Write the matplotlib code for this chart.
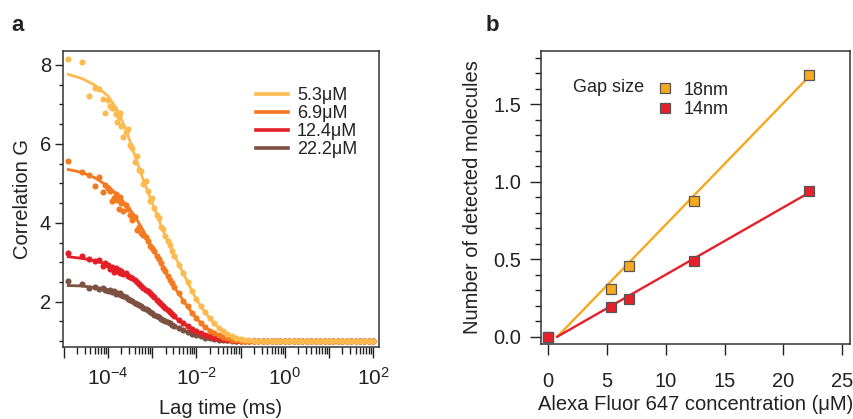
import numpy as np
import matplotlib
matplotlib.use("Agg")
import matplotlib.pyplot as plt
from matplotlib.ticker import LogLocator, FuncFormatter, MultipleLocator, NullFormatter
from matplotlib.lines import Line2D

plt.rcParams['font.family'] = ['Liberation Sans', 'DejaVu Sans']
plt.rcParams['text.color'] = '#222222'
plt.rcParams['axes.labelcolor'] = '#222222'
plt.rcParams['xtick.color'] = '#222222'
plt.rcParams['ytick.color'] = '#222222'

# ---- panel a : FCS curves (lag times stored as log10 ms) ----
concentrations = ['5.3μM', '6.9μM', '12.4μM', '22.2μM']
curve_colors = ['#FDBB4F', '#F37A20', '#E41E26', '#7D5141']

dot_lag = [-4.90, -4.60, -4.43, -4.30, -4.20, -4.12, -4.06, -4.00, -3.95, -3.90,
           -3.86, -3.82, -3.79, -3.75, -3.72, -3.70, -3.65, -3.60, -3.55, -3.50,
           -3.45, -3.40, -3.35, -3.30, -3.25, -3.20, -3.15, -3.10, -3.05, -3.00,
           -2.95, -2.90, -2.85, -2.80, -2.75, -2.70, -2.65, -2.60, -2.55, -2.50,
           -2.40, -2.30, -2.20, -2.10, -2.00, -1.90, -1.80, -1.70, -1.60, -1.50,
           -1.40, -1.30, -1.20, -1.10, -1.00, -0.90, -0.80]

dots_53 = [8.14, 8.07, 7.21, 7.42, 7.38, 7.13, 6.77, 7.10, 6.95, 6.90,
           6.92, 6.75, 6.56, 6.68, 6.78, 6.45, 6.18, 6.30, 6.37, 5.97,
           5.90, 5.55, 5.70, 5.35, 5.30, 4.98, 5.05, 4.80, 4.55, 4.62,
           4.38, 4.20, 4.12, 3.90, 3.85, 3.66, 3.55, 3.45, 3.28, 3.17,
           2.93, 2.72, 2.49, 2.26, 2.06, 1.88, 1.73, 1.58, 1.45, 1.34,
           1.25, 1.18, 1.13, 1.09, 1.06, 1.04, 1.02]
dots_69 = [5.57, 5.29, 5.20, 4.93, 5.16, 4.77, 4.95, 4.88, 4.80, 4.55,
           4.62, 4.73, 4.58, 4.36, 4.66, 4.50, 4.30, 4.45, 4.36, 4.19,
           4.07, 4.15, 3.83, 3.90, 3.75, 3.68, 3.65, 3.55, 3.42, 3.35,
           3.28, 3.15, 3.08, 2.97, 2.85, 2.77, 2.65, 2.56, 2.47, 2.38,
           2.21, 2.03, 1.88, 1.72, 1.59, 1.47, 1.36, 1.27, 1.20, 1.15,
           1.10, 1.07, 1.04, 1.02, 1.01, 1.00, 1.00]
dots_124 = [3.23, 3.16, 3.08, 3.02, 3.05, 2.90, 2.97, 2.93, 2.84, 2.88,
            2.76, 2.85, 2.78, 2.80, 2.72, 2.77, 2.70, 2.73, 2.66, 2.62,
            2.60, 2.54, 2.50, 2.45, 2.41, 2.36, 2.30, 2.26, 2.21, 2.16,
            2.11, 2.05, 2.00, 1.95, 1.90, 1.84, 1.79, 1.73, 1.68, 1.64,
            1.55, 1.46, 1.38, 1.32, 1.26, 1.20, 1.16, 1.12, 1.09, 1.07,
            1.05, 1.03, 1.02, 1.01, 1.00, 1.00, 1.00]
dots_222 = [2.53, 2.45, 2.34, 2.38, 2.33, 2.36, 2.31, 2.28, 2.30, 2.24,
            2.26, 2.20, 2.23, 2.19, 2.21, 2.16, 2.14, 2.12, 2.08, 2.05,
            2.02, 1.98, 1.95, 1.91, 1.88, 1.85, 1.81, 1.78, 1.74, 1.71,
            1.67, 1.64, 1.61, 1.57, 1.54, 1.51, 1.48, 1.45, 1.42, 1.39,
            1.34, 1.28, 1.23, 1.19, 1.15, 1.12, 1.09, 1.07, 1.05, 1.04,
            1.03, 1.02, 1.01, 1.00, 1.00, 1.00, 1.00]

# long-lag baseline points, shared by all curves
tail_lag = [-0.7, -0.6, -0.5, -0.4, -0.3, -0.2, -0.1, 0.0, 0.1, 0.2, 0.3, 0.4, 0.5, 0.6,
            0.7, 0.8, 0.9, 1.0, 1.1, 1.2, 1.3, 1.4, 1.5, 1.6, 1.7, 1.8, 1.9, 2.0]
tail_g = [1.01, 1.00, 1.00, 1.00, 1.00, 1.00, 1.00, 1.00, 1.00, 1.00, 1.00, 1.00, 1.00, 1.00,
          1.00, 1.00, 1.00, 1.00, 1.00, 1.00, 1.00, 1.00, 1.00, 1.00, 1.00, 1.00, 1.00, 1.00]

fit_lag = [-4.9, -4.6, -4.3, -4.0, -3.8, -3.6, -3.4, -3.2, -3.0, -2.8, -2.6, -2.4, -2.2,
           -2.0, -1.8, -1.6, -1.4, -1.2, -1.0, -0.8, -0.6, -0.3, 0.0, 1.0, 2.0]
fit_53 = [7.76, 7.66, 7.49, 7.21, 6.88, 6.38, 5.72, 5.08, 4.50, 3.93, 3.42, 2.95, 2.50,
          2.05, 1.72, 1.45, 1.25, 1.13, 1.06, 1.02, 1.01, 1.00, 1.00, 1.00, 1.00]
fit_69 = [5.35, 5.28, 5.14, 4.93, 4.72, 4.47, 4.18, 3.80, 3.37, 2.96, 2.54, 2.20, 1.87,
          1.58, 1.35, 1.20, 1.10, 1.04, 1.01, 1.00, 1.00, 1.00, 1.00, 1.00, 1.00]
fit_124 = [3.14, 3.10, 3.04, 2.94, 2.83, 2.70, 2.55, 2.36, 2.15, 1.94, 1.72, 1.53, 1.38,
           1.26, 1.16, 1.09, 1.05, 1.02, 1.00, 1.00, 1.00, 1.00, 1.00, 1.00, 1.00]
fit_222 = [2.41, 2.40, 2.36, 2.29, 2.21, 2.12, 1.99, 1.85, 1.71, 1.57, 1.44, 1.33, 1.23,
           1.15, 1.09, 1.05, 1.03, 1.01, 1.00, 1.00, 1.00, 1.00, 1.00, 1.00, 1.00]

# ---- panel b : detected molecules vs concentration ----
conc = [0.0, 5.3, 6.9, 12.4, 22.2]
mol_18nm = [0.0, 0.31, 0.455, 0.875, 1.69]
mol_14nm = [0.0, 0.19, 0.245, 0.49, 0.94]
fit_conc = [0.77, 22.2]
fit_18nm = [0.0, 1.68]
fit_14nm = [0.0, 0.93]
gap_labels = ['18nm', '14nm']
gap_colors = ['#F6A81E', '#E8202A']

fig = plt.figure(figsize=(8.54, 4.19), dpi=100)
ax1 = fig.add_axes([0.0738, 0.1718, 0.370, 0.706])
ax2 = fig.add_axes([0.633, 0.179, 0.362, 0.700])

# draw heaviest concentration first so the 5.3 μM curve sits on top
all_dots = [dots_53, dots_69, dots_124, dots_222]
all_fits = [fit_53, fit_69, fit_124, fit_222]
lag = 10 ** np.array(dot_lag)
tail = 10 ** np.array(tail_lag)
flag = 10 ** np.array(fit_lag)
for i in [3, 2, 1, 0]:
    c = curve_colors[i]
    ax1.plot(lag, all_dots[i], 'o', ms=4.4, mec='none', color=c)
    ax1.plot(tail, tail_g, 'o', ms=4.4, mec='none', color=c)
    ax1.plot(flag, all_fits[i], '-', lw=2.0, color=c)

ax1.set_xscale('log')
ax1.set_xlim(10 ** -5.018, 10 ** 2.131)
ax1.set_ylim(0.853, 8.347)
ax1.xaxis.set_major_locator(LogLocator(base=10, numticks=20))
ax1.xaxis.set_minor_locator(LogLocator(base=10, subs=np.arange(2, 10), numticks=40))
ax1.xaxis.set_minor_formatter(NullFormatter())


def dec_fmt(v, pos):
    e = int(round(np.log10(v)))
    if e % 2:
        return ''
    return r'$\mathregular{10^{%d}}$' % e


ax1.xaxis.set_major_formatter(FuncFormatter(dec_fmt))
ax1.yaxis.set_major_locator(MultipleLocator(2))
ax1.yaxis.set_minor_locator(MultipleLocator(0.5))
ax1.tick_params(axis='x', which='major', length=8, width=1.0, labelsize=15, pad=6)
ax1.tick_params(axis='x', which='minor', length=5, width=1.0)
ax1.tick_params(axis='y', which='major', length=5.5, width=1.0, labelsize=14.5, pad=3)
ax1.tick_params(axis='y', which='minor', length=3, width=1.0)
ax1.set_xlabel('Lag time (ms)', fontsize=14.5, labelpad=8)
ax1.set_ylabel('Correlation G', fontsize=14.5, labelpad=6)

handles = [Line2D([], [], color=c, lw=2.6) for c in curve_colors]
ax1.legend(handles, concentrations, loc='upper left', bbox_to_anchor=(0.583, 0.91),
           frameon=False, fontsize=13, handlelength=1.75, handletextpad=0.5,
           labelspacing=0.06, borderpad=0)

# panel b
ax2.plot(fit_conc, fit_18nm, '-', lw=1.7, color=gap_colors[0])
ax2.plot(fit_conc, fit_14nm, '-', lw=1.7, color=gap_colors[1])
ax2.plot(conc, mol_18nm, 's', ms=7.2, mfc=gap_colors[0], mec='#555555', mew=0.9, ls='none')
ax2.plot(conc, mol_14nm, 's', ms=7.2, mfc=gap_colors[1], mec='#555555', mew=0.9, ls='none')
ax2.set_xlim(-0.65, 25.65)
ax2.set_ylim(-0.047, 1.846)
ax2.xaxis.set_major_locator(MultipleLocator(5))
ax2.yaxis.set_major_locator(MultipleLocator(0.5))
ax2.yaxis.set_minor_locator(MultipleLocator(0.1))
ax2.yaxis.set_major_formatter(FuncFormatter(lambda v, p: '%.1f' % v))
ax2.tick_params(axis='both', which='major', length=8, width=1.0, labelsize=14.5, pad=6)
ax2.tick_params(axis='x', which='major', pad=12)
ax2.tick_params(axis='y', which='minor', length=4.5, width=1.0)
ax2.set_xlabel('Alexa Fluor 647 concentration (μM)', fontsize=14.5, labelpad=3)
ax2.set_ylabel('Number of detected molecules', fontsize=14.5, labelpad=8)

sq = [Line2D([], [], marker='s', ls='none', ms=7.2, mfc=c, mec='#555555', mew=0.9)
      for c in gap_colors]
ax2.legend(sq, gap_labels, loc='upper left', bbox_to_anchor=(0.345, 0.925),
           frameon=False, fontsize=13, handlelength=1.0, handletextpad=0.5,
           labelspacing=0.15, borderpad=0)
ax2.text(0.105, 0.874, 'Gap size', transform=ax2.transAxes, fontsize=13,
         va='center', ha='left')

for ax in (ax1, ax2):
    for s in ax.spines.values():
        s.set_linewidth(1.1)
        s.set_color('#333333')

fig.text(0.013, 0.925, 'a', fontsize=16, fontweight='bold')
fig.text(0.569, 0.925, 'b', fontsize=16, fontweight='bold')

fig.savefig('out.png', dpi=100)
